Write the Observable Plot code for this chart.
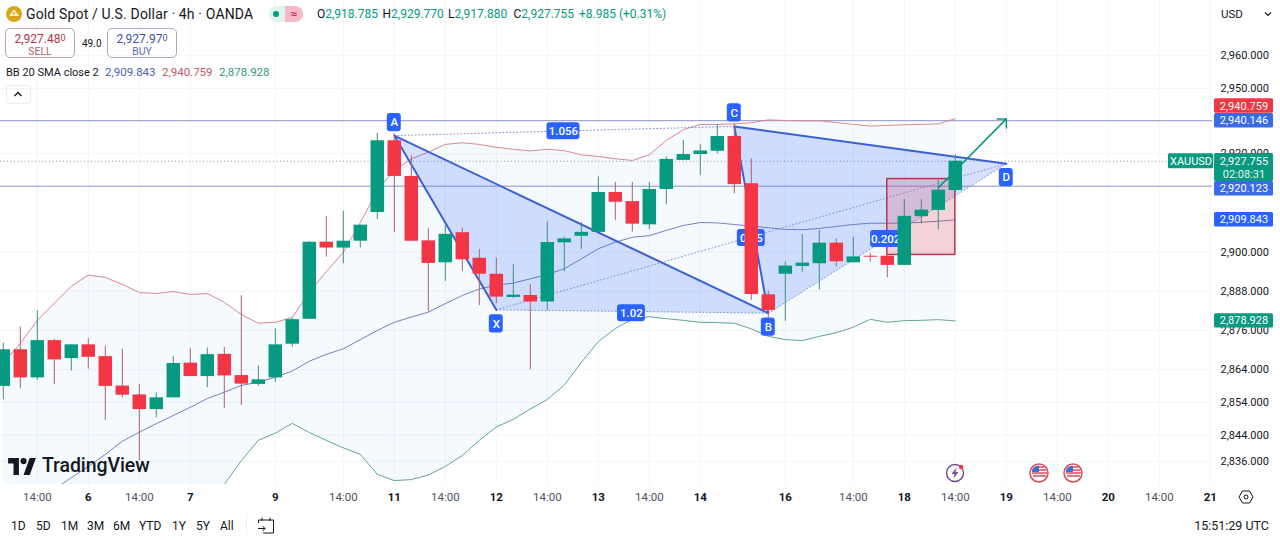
<!DOCTYPE html>
<html>
<head>
<meta charset="utf-8">
<title>XAUUSD 4h</title>
<script src="https://cdn.jsdelivr.net/npm/d3@7"></script>
<script src="https://cdn.jsdelivr.net/npm/@observablehq/plot@0.6"></script>
<style>
  html, body { margin: 0; padding: 0; background: #fff; overflow: hidden; }
  body { font-family: Roboto, sans-serif; color: #131722; width: 1280px; height: 540px; position: relative; }
  #chart svg { display: block; }
  .t { position: absolute; white-space: nowrap; line-height: 1; }
  .ohlc span { display: inline-block; width: 65.5px; }
  .ohlc i { font-style: normal; color: #131722; }
  .box { position: absolute; top: 28px; height: 30px; border: 1px solid #b2b5be; border-radius: 5px; text-align: center; box-sizing: border-box; width: 70px; }
  .box b { display: block; font-weight: 400; font-size: 12px; margin-top: 3px; line-height: 13px; }
  .box b small { font-size: 9px; vertical-align: 2px; }
  .box span { display: block; font-size: 10.5px; line-height: 11px; }
  .icon { position: absolute; }
</style>
</head>
<body>
<div id="chart"></div>

<svg class="icon" style="left:6px;top:6px" width="16" height="16" viewBox="0 0 16 16">
  <circle cx="8" cy="8" r="8" fill="#d9a520"/>
  <path d="M3 10l2-3h2l1 3zM8 10l1-3h2l2 3zM5.5 6.5l1-2h3l1 2z" fill="#fff3c4"/>
</svg>
<div class="t" style="left:26px;top:7px;font-size:14px;letter-spacing:.15px">Gold Spot / U.S. Dollar · 4h · OANDA</div>
<div style="position:absolute;left:269px;top:6px;width:16px;height:16px;background:#dff4ee;border-radius:8px 0 0 8px"></div>
<div style="position:absolute;left:273px;top:11px;width:6px;height:6px;background:#089981;border-radius:3px"></div>
<div class="t" style="left:285px;top:6px;width:18px;height:16px;background:#f7b9c6;border-radius:0 8px 8px 0;text-align:center;font-size:12px;line-height:16px;color:#c2185b">≈</div>
<div class="t ohlc" style="left:317px;top:8px;font-size:12px;color:#089981"><span><i>O</i>2,918.785</span><span><i>H</i>2,929.770</span><span><i>L</i>2,917.880</span><span><i>C</i>2,927.755</span>+8.985 (+0.31%)</div>

<div class="box" style="left:5px;color:#b8324a;border-color:#bfa6aa"><b>2,927.48<small>0</small></b><span style="color:#b5606b">SELL</span></div>
<div class="t" style="left:82px;top:39px;font-size:10px">49.0</div>
<div class="box" style="left:107px;color:#3f51a8;border-color:#a6acc0"><b>2,927.97<small>0</small></b><span style="color:#5f70b5">BUY</span></div>

<div class="t" style="left:6px;top:67px;font-size:11px">BB 20 SMA close 2</div>
<div class="t" style="left:105px;top:67px;font-size:11.5px;color:#4a62b8">2,909.843</div>
<div class="t" style="left:162px;top:67px;font-size:11.5px;color:#c0566a">2,940.759</div>
<div class="t" style="left:219px;top:67px;font-size:11.5px;color:#2f9a80">2,878.928</div>
<div style="position:absolute;left:6px;top:85px;width:25px;height:19px;border:1px solid #eceef2;border-radius:3px;box-sizing:border-box"></div>
<svg class="icon" style="left:13px;top:90px" width="10" height="8" viewBox="0 0 10 8"><path d="M1.5 6L5 2.5 8.5 6" fill="none" stroke="#131722" stroke-width="1.3"/></svg>

<div class="t" style="left:1221px;top:9px;font-size:11.5px">USD</div>
<svg class="icon" style="left:1264px;top:11px" width="8" height="6" viewBox="0 0 8 6"><path d="M1 1.5L4 4.5 7 1.5" fill="none" stroke="#131722" stroke-width="1.2"/></svg>

<svg class="icon" style="left:8px;top:458px" width="28" height="17" viewBox="0 0 36 22">
  <path d="M14 22H7V7H0V0h14zM28 22h-8L28 0h8z" fill="#131722"/><circle cx="20" cy="4" r="4" fill="#131722"/>
</svg>
<div class="t" style="left:42px;top:456px;font-size:19.5px;font-weight:500;letter-spacing:-.1px">TradingView</div>

<svg class="icon" style="left:945px;top:463px" width="20" height="20" viewBox="0 0 20 20">
  <circle cx="10" cy="10" r="8.5" fill="#fff" stroke="#6d4a8f" stroke-width="1.4"/>
  <path d="M11.5 4.5L6.5 11h3l-1 4.5 5-6.5h-3z" fill="#7b4a9a"/><circle cx="16" cy="4" r="2.2" fill="#f23645"/>
</svg>
<svg class="icon" style="left:1029px;top:463px" width="20" height="20" viewBox="0 0 20 20">
  <circle cx="10" cy="10" r="9" fill="#fff" stroke="#e0485a" stroke-width="1.5"/>
  <path d="M3 10h15M4 13h13" stroke="#e0485a" stroke-width="1.6"/><path d="M3 9V7a6 6 0 0 1 7-4v6z" fill="#3a6fd8"/><path d="M10 4h5.5M10 7h7.5" stroke="#e0485a" stroke-width="1.6"/>
</svg>
<svg class="icon" style="left:1063px;top:463px" width="20" height="20" viewBox="0 0 20 20">
  <circle cx="10" cy="10" r="9" fill="#fff" stroke="#e0485a" stroke-width="1.5"/>
  <path d="M3 10h15M4 13h13" stroke="#e0485a" stroke-width="1.6"/><path d="M3 9V7a6 6 0 0 1 7-4v6z" fill="#3a6fd8"/><path d="M10 4h5.5M10 7h7.5" stroke="#e0485a" stroke-width="1.6"/>
</svg>
<svg class="icon" style="left:1238px;top:489px" width="16" height="16" viewBox="0 0 16 16">
  <path d="M4.5 2h7L15 8l-3.5 6h-7L1 8z" fill="none" stroke="#131722" stroke-width="1"/><circle cx="8" cy="8" r="2" fill="none" stroke="#131722"/>
</svg>

<div style="position:absolute;left:0;top:510px;width:1280px;height:30px;font-size:12px">
  <span class="t" style="left:11px;top:10px">1D</span><span class="t" style="left:36px;top:10px">5D</span>
  <span class="t" style="left:61px;top:10px">1M</span><span class="t" style="left:87px;top:10px">3M</span>
  <span class="t" style="left:113px;top:10px">6M</span><span class="t" style="left:139px;top:10px">YTD</span>
  <span class="t" style="left:172px;top:10px">1Y</span><span class="t" style="left:196px;top:10px">5Y</span>
  <span class="t" style="left:220px;top:10px">All</span>
  <div style="position:absolute;left:246px;top:4px;width:1px;height:20px;background:#eceef2"></div>
  <svg class="icon" style="left:257px;top:6px" width="18" height="18" viewBox="0 0 18 18">
    <path d="M1.5 7V4h15v13H6M5 1.5V5M13 1.5V5M1 12.5h7M5.5 10l2.5 2.5L5.5 15" fill="none" stroke="#131722"/>
  </svg>
  <span class="t" style="right:11px;top:10px;font-size:12.5px">15:51:29 UTC</span>
</div>

<script>
// candles, oldest first (4h bars)
const open = [2858.9,2870.1,2861.5,2872.9,2867.4,2871.6,2868.0,2859.0,2856.3,2851.8,2855.4,2866.0,2861.9,2868.7,2862.2,2859.5,2861.5,2871.8,2879.4,2903.0,2901.2,2903.3,2912.1,2934.0,2923.1,2903.4,2896.7,2905.9,2898.1,2893.2,2886.1,2886.7,2884.7,2902.8,2904.8,2906.0,2918.2,2915.4,2908.3,2919.1,2928.0,2929.8,2930.8,2935.3,2920.9,2886.9,2893.2,2895.6,2896.4,2902.7,2896.7,2898.7,2898.7,2895.9,2910.8,2912.7,2918.785];
const high = [2872.1,2877.0,2882.1,2873.3,2871.6,2873.5,2871.2,2870.3,2859.5,2856.9,2868.0,2870.4,2870.6,2870.8,2886.6,2865.1,2876.5,2879.7,2903.2,2910.9,2912.4,2908.2,2936.3,2936.2,2929.5,2907.1,2908.1,2907.3,2900.8,2898.1,2896.1,2890.0,2909.1,2904.5,2909.1,2922.9,2921.3,2921.3,2921.2,2929.0,2934.1,2932.8,2939.0,2939.2,2928.5,2888.0,2896.9,2905.4,2906.6,2904.0,2904.5,2899.6,2899.5,2916.0,2916.0,2921.9,2929.77];
const low = [2854.8,2858.2,2860.7,2859.5,2863.6,2864.2,2848.5,2855.4,2836.2,2849.3,2855.4,2861.9,2858.5,2852.2,2853.1,2858.9,2860.1,2870.9,2879.4,2898.4,2896.4,2901.2,2909.9,2906.0,2903.3,2881.6,2891.0,2894.1,2883.6,2884.2,2885.8,2864.0,2882.1,2893.9,2900.8,2905.8,2909.6,2906.1,2906.8,2914.5,2928.0,2923.4,2930.0,2917.8,2885.2,2879.7,2878.8,2893.8,2888.4,2895.6,2896.7,2896.9,2892.1,2895.9,2908.6,2906.8,2917.88];
const close = [2870.1,2861.5,2872.9,2867.0,2871.6,2867.8,2858.9,2856.2,2851.8,2855.4,2865.9,2861.9,2868.6,2862.1,2859.6,2860.9,2871.6,2879.3,2903.0,2901.2,2903.3,2908.2,2934.0,2923.1,2903.3,2896.5,2905.4,2897.6,2893.2,2886.2,2886.8,2884.7,2902.9,2904.0,2906.0,2918.2,2915.2,2908.5,2919.1,2928.3,2929.8,2930.9,2935.3,2920.6,2887.0,2882.1,2895.7,2896.6,2902.7,2897.0,2898.5,2898.4,2895.9,2910.9,2912.8,2918.9,2927.755];

// Bollinger bands
const bbUpper = [2866.2,2872.0,2879.1,2884.3,2889.5,2892.9,2892.2,2890.1,2887.6,2887.3,2887.9,2887.0,2887.3,2884.6,2880.9,2878.2,2878.5,2880.0,2887.7,2894.0,2899.9,2909.0,2918.8,2925.0,2928.5,2930.5,2932.9,2933.4,2932.9,2932.0,2931.4,2930.9,2931.4,2931.0,2929.7,2929.2,2928.5,2928.0,2929.7,2934.1,2937.4,2939.0,2939.0,2939.2,2939.5,2940.4,2940.2,2940.1,2940.1,2939.6,2939.0,2938.5,2938.7,2938.9,2939.0,2939.2,2940.759];
const bbBasis = [2817.9,2820.9,2824.0,2827.4,2831.0,2834.4,2838.1,2842.1,2844.9,2847.5,2850.0,2852.5,2855.2,2857.1,2859.2,2860.2,2861.7,2863.6,2866.6,2868.7,2870.4,2873.2,2876.0,2878.5,2880.1,2881.6,2884.2,2886.7,2888.7,2889.8,2890.5,2891.8,2893.1,2894.9,2897.9,2901.0,2903.0,2904.5,2905.0,2906.6,2908.1,2909.0,2908.9,2908.4,2907.9,2907.4,2906.9,2906.8,2907.2,2907.8,2908.4,2908.8,2908.8,2908.8,2909.1,2909.4,2909.843];
const bbLower = [2771,2775,2782,2787,2793,2796,2799,2803,2807,2810,2813,2817,2821.6,2828.9,2836.2,2842.4,2844.6,2847.6,2844.8,2842.4,2840.1,2838.1,2832.0,2830.1,2830.4,2831.8,2834.4,2837.8,2842.4,2846.5,2848.8,2852.0,2854.9,2859.3,2866.2,2872.6,2876.6,2879.4,2880.2,2879.6,2879.1,2878.5,2878.4,2878.2,2876.5,2874.2,2873.2,2872.9,2874.2,2875.3,2877.0,2879.4,2878.5,2879.0,2879.1,2879.3,2878.928];

// XABCD pattern pivots
const pivotNames = ["X", "A", "B", "C", "D"];
const pivotBars = [29, 23, 45, 43, 59];
const pivotPrices = [2882.3, 2935.6, 2881.3, 2938.4, 2927.0];
const pivotShift = [14, -13, 14, -13.5, 14];

// fib ratios on the dotted legs
const ratioLabels = ["1.056", "1.02", "0.85", "0.202"];
const ratioBars = [32.95, 36.95, 44, 51.9];
const ratioPrices = [2936.9, 2881.3, 2904.3, 2904.0];
const ratioHalfWidths = [0.97, 0.82, 0.82, 0.88];

// price axis
const yTicks = [2960, 2950, 2930, 2900, 2888, 2876, 2864, 2854, 2844, 2836];
const yTickLabels = ["2,960.000", "2,950.000", "2,920.000", "2,900.000", "2,888.000", "2,876.000", "2,864.000", "2,854.000", "2,844.000", "2,836.000"];

// time axis
const hourTicks = [2, 8, 20, 26, 32, 38, 50, 56, 62, 68];
const dayTicks = [5, 11, 16, 23, 29, 35, 41, 46, 53, 59, 65, 71];
const dayLabels = ["6", "7", "9", "11", "12", "13", "14", "16", "18", "19", "20", "21"];

// price badges in the right gutter
const badgeLabels = ["2,940.759", "2,940.146", "2,920.123", "2,909.843", "2,878.928"];
const badgeValues = [2940.759, 2940.146, 2920.123, 2909.843, 2878.928];
const badgeColors = ["#f23645", "#3a6be4", "#3a6be4", "#2962ff", "#089981"];
const badgeShift = [-12.7, 0, 2.6, 0, 0];

const GREEN = "#089981", RED = "#f23645", BLUE = "#2962ff";
const lastPrice = close[close.length - 1];

const candles = open.map((o, i) => ({ i, o, h: high[i], l: low[i], c: close[i], up: close[i] >= o }));
const bands = open.map((_, i) => ({ i, upper: bbUpper[i], basis: bbBasis[i], lower: bbLower[i] }));
const pivots = pivotNames.map((name, k) => ({ name, i: pivotBars[k], p: pivotPrices[k], dy: pivotShift[k] }));
const legs = (names) => names.map((name) => pivots.find((d) => d.name == name));
const ratios = ratioLabels.map((label, k) => ({ label, i: ratioBars[k], p: ratioPrices[k], w: ratioHalfWidths[k] }));
const badges = badgeLabels.map((label, k) => ({ label, p: badgeValues[k], fill: badgeColors[k], dy: badgeShift[k] }));
const G1 = 71.25, G2 = 74.72, GM = 72.98; // right gutter, in bar units

const triangle = (names) => Plot.line(legs(names), { x: "i", y: "p", fill: BLUE, fillOpacity: 0.19, stroke: "none" });
const dotted = (names) => Plot.line(legs(names), { x: "i", y: "p", stroke: "#7f93d8", strokeWidth: 1, strokeDasharray: "1,2.5" });

const pivotMarks = (d) => [
  Plot.rect([d], { x1: d.i - 0.41, x2: d.i + 0.41, y1: d.p - 2.8, y2: d.p + 2.8, dy: d.dy, fill: BLUE, rx: 3 }),
  Plot.text([d], { x: "i", y: "p", dy: d.dy, text: "name", fill: "white", fontSize: 11.5, fontWeight: 500 })
];
const badgeMarks = (d) => [
  Plot.rect([d], { x1: G1, x2: G2, y1: d.p - 2.2, y2: d.p + 2.2, dy: d.dy, fill: d.fill, rx: 1.5 }),
  Plot.text([d], { x: GM, y: "p", dy: d.dy, text: "label", fill: "white", fontSize: 11 })
];

const chart = Plot.plot({
  width: 1280,
  height: 510,
  marginLeft: 0,
  marginRight: 68,
  marginTop: 0,
  marginBottom: 26,
  x: { type: "linear", domain: [-0.165, 71.13] },
  y: { type: "linear", domain: [2828.9, 2976.9] },
  style: { fontFamily: "Roboto, sans-serif", fontSize: "11.5px", color: "#131722", background: "transparent" },
  marks: [
    Plot.gridX(dayTicks.concat(hourTicks), { stroke: "#f3f5f9", strokeOpacity: 1 }),
    Plot.gridY(yTicks, { stroke: "#f3f5f9", strokeOpacity: 1 }),
    Plot.areaY(bands, { x: "i", y1: "lower", y2: "upper", fill: "#2196f3", fillOpacity: 0.05, clip: true }),
    Plot.ruleY([2940.146, 2920.123], { stroke: "#8c93c8", strokeWidth: 1 }),
    Plot.ruleY([lastPrice], { stroke: "#8f959e", strokeDasharray: "1,2.5" }),
    Plot.line(bands, { x: "i", y: "upper", stroke: "#dd8893", strokeWidth: 1, clip: true }),
    Plot.line(bands, { x: "i", y: "basis", stroke: "#7483bd", strokeWidth: 1, clip: true }),
    Plot.line(bands, { x: "i", y: "lower", stroke: "#5fa595", strokeWidth: 1, clip: true }),

    // pattern
    triangle(["X", "A", "B"]),
    triangle(["B", "C", "D"]),
    dotted(["X", "B"]),
    dotted(["A", "C"]),
    dotted(["X", "D"]),
    dotted(["B", "D"]),
    Plot.line(legs(["X", "A", "B", "C", "D"]), { x: "i", y: "p", stroke: "#3d5fd6", strokeWidth: 2 }),
    Plot.rect([{ a: 52, b: 56, p1: 2899.1, p2: 2922.3 }], { x1: "a", x2: "b", y1: "p1", y2: "p2", fill: RED, fillOpacity: 0.2, stroke: "#b5364f", strokeWidth: 1.5 }),
    Plot.arrow([{ a: 55, b: 59, p1: 2919.6, p2: 2940.7 }], { x1: "a", x2: "b", y1: "p1", y2: "p2", stroke: GREEN, strokeWidth: 1.5, headAngle: 90, headLength: 9 }),
    Plot.rect(ratios, { x1: (d) => d.i - d.w, x2: (d) => d.i + d.w, y1: (d) => d.p - 2.6, y2: (d) => d.p + 2.6, fill: BLUE, rx: 3 }),
    Plot.text(ratios, { x: "i", y: "p", text: "label", fill: "white", fontSize: 11.5, fontWeight: 500 }),
    ...pivots.flatMap(pivotMarks),

    // candles
    Plot.ruleX(candles, { x: "i", y1: "l", y2: "h", stroke: (d) => (d.up ? "#3f8f7e" : "#ae5f6b"), strokeWidth: 1 }),
    Plot.ruleX(candles, { x: "i", y1: "o", y2: "c", stroke: (d) => (d.up ? GREEN : RED), strokeWidth: 13.5 }),

    // axes
    Plot.axisY(yTicks, { anchor: "right", tickSize: 0, tickPadding: 8, label: null, fontSize: 11, tickFormat: (v) => yTickLabels[yTicks.indexOf(v)], color: "#131722" }),
    Plot.axisX(hourTicks, { anchor: "bottom", tickSize: 0, tickPadding: 8, label: null, tickFormat: () => "14:00", color: "#50535e" }),
    Plot.axisX(dayTicks, { anchor: "bottom", tickSize: 0, tickPadding: 8, label: null, tickFormat: (v) => dayLabels[dayTicks.indexOf(v)], color: "#131722", fontWeight: "bold" }),

    // gutter badges, last price block on top
    ...badges.flatMap(badgeMarks),
    Plot.rect([lastPrice], { x1: G1, x2: G2, y1: lastPrice - 6.2, y2: lastPrice + 2.35, fill: GREEN, rx: 1.5 }),
    Plot.text([lastPrice], { x: GM, y: lastPrice, text: () => "2,927.755", fill: "white", fontSize: 11 }),
    Plot.text([lastPrice], { x: GM, y: lastPrice, dy: 13.4, text: () => "02:08:31", fill: "#e3f5f0", fontSize: 11 }),
    Plot.rect([lastPrice], { x1: 68.54, x2: 71.2, y1: lastPrice - 2.3, y2: lastPrice + 2.3, fill: GREEN, rx: 1.5 }),
    Plot.text([lastPrice], { x: 69.87, y: lastPrice, text: () => "XAUUSD", fill: "white", fontSize: 11 })
  ]
});

d3.select("#chart").append(() => chart);
</script>
</body>
</html>
